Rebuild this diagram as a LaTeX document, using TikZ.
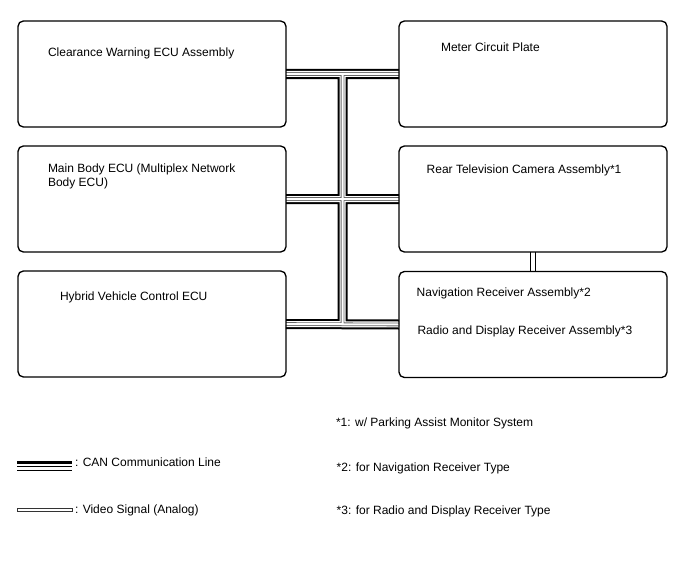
\documentclass[tikz,border=0pt]{standalone}
\usepackage{fontspec}
\setmainfont{Liberation Sans}
\usetikzlibrary{calc,backgrounds}
\begin{document}
\begin{tikzpicture}[x=0.75pt,y=-0.75pt,
  ecubox/.style={draw=black,line width=1pt,rounded corners=4pt,minimum width=201pt,minimum height=79.5pt,inner sep=0pt,outer sep=0pt},
  lbl/.style={inner sep=0pt,outer sep=0pt,anchor=base west,font=\fontsize{9}{10}\selectfont},
  lblml/.style={inner sep=0pt,outer sep=0pt,anchor=north west,align=left,font=\fontsize{9}{10}\selectfont}]
\useasboundingbox (0,0) rectangle (688,560);
% boxes
\node[ecubox] (b1) at (152,74) {};
\node[ecubox] (b2) at (152,199) {};
\node[ecubox] (b3) at (152,324) {};
\node[ecubox] (b4) at (533,74) {};
\node[ecubox] (b5) at (533,199) {};
\node[ecubox] (b6) at (533,324.5) {};
% texts
\node[lbl] (t1) at (48,56) {Clearance Warning ECU Assembly};
\node[lbl] (t4) at (441,51) {Meter Circuit Plate};
\node[lblml] (t2) at (48,164.3) {Main Body ECU (Multiplex Network\\Body ECU)};
\node[lbl] (t5) at (426.7,173.3) {Rear Television Camera Assembly*1};
\node[lbl] (t3) at (60,300.7) {Hybrid Vehicle Control ECU};
\node[lbl] (t6a) at (416.7,296) {Navigation Receiver Assembly*2};
\node[lbl] (t6b) at (417.5,334.3) {Radio and Display Receiver Assembly*3};
\node[lbl] (n1) at (336,426.7) {*1: w/ Parking Assist Monitor System};
\node[lbl] (n2) at (336.7,471.7) {*2: for Navigation Receiver Type};
\node[lbl] (n3) at (336.7,514.3) {*3: for Radio and Display Receiver Type};
\node[lbl] (l1) at (75,466.7) {: CAN Communication Line};
\node[lbl] (l2) at (75,513.3) {: Video Signal (Analog)};
% junction coordinates
\coordinate (j1) at ($(b1.east)!0.5!(b4.west)$);
\coordinate (j3) at ($(b3.east)!0.5!(b6.west)$);
% CAN lines
\begin{scope}[on background layer]
\foreach \w/\c in {10/black,6/white,3.6/black!60,2/white}{
  \draw[line width=\w*0.75pt,draw=\c] (b1.east) -- (b4.west) (b2.east) -- (b5.west) (b3.east) -- (b6.west) (j1) -- (j3);
}
% video line
\draw[line width=4.5pt,draw=black] (b5.south) -- (b6.north);
\draw[line width=3pt,draw=white] (b5.south) -- (b6.north);
\end{scope}
% legend
\coordinate (c1) at (17,462.5);
\coordinate (c2) at (72,462.5);
\draw[line width=1.6pt] (c1) -- (c2);
\draw[line width=0.8pt] ($(c1)+(0,4.3)$) -- ($(c2)+(0,4.3)$);
\draw[line width=0.8pt] ($(c1)+(0,7.8)$) -- ($(c2)+(0,7.8)$);
\coordinate (v1) at (17,508.5);
\coordinate (v2) at (72,511.5);
\draw[line width=0.6pt,draw=black!80] (v1) rectangle (v2);
\end{tikzpicture}
\end{document}
